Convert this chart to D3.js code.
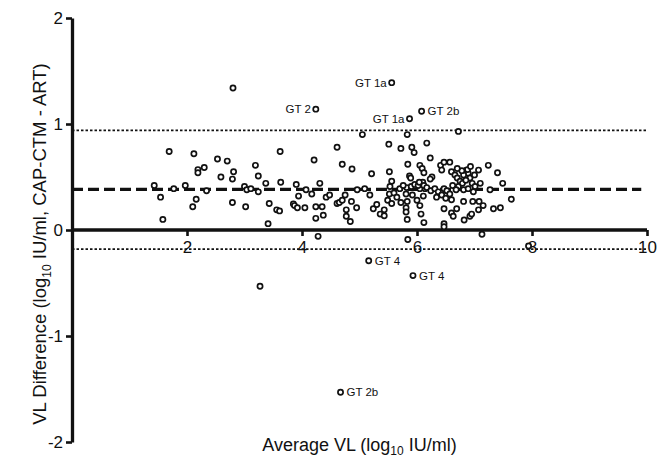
<!DOCTYPE html>
<html>
<head>
<meta charset="utf-8">
<script src="https://cdn.jsdelivr.net/npm/d3@7/dist/d3.min.js"></script>
<style>
  body { margin: 0; background: #fff; }
  svg text { font-family: "Liberation Sans", Arial, sans-serif; fill: #111; }
</style>
</head>
<body>
<div id="chart"></div>
<script>
'use strict';

// average VL (log10) vs difference
const avgVL = [
  1.43,1.54,1.58,1.69,1.77,1.97,2.10,2.12,2.16,2.19,2.19,2.30,2.34,2.53,2.59,2.70,2.79,2.81,2.79,2.80,
  3.00,3.02,3.04,3.11,3.19,3.24,3.24,3.37,3.43,3.41,3.56,3.61,3.62,3.63,3.27,
  3.85,3.87,3.92,3.90,3.94,4.05,4.07,4.17,4.21,4.24,4.24,4.24,4.28,4.31,4.35,4.37,4.42,4.48,
  4.61,4.61,4.65,4.70,4.75,4.77,4.77,4.84,4.86,4.95,4.70,4.87,4.96,4.67,
  5.05,5.09,5.16,5.18,5.21,5.24,5.30,5.36,5.43,5.43,5.49,5.51,5.52,5.52,5.56,5.56,5.56,5.60,5.65,5.72,5.72,5.84,
  5.81,5.83,5.81,5.81,5.83,5.84,5.83,5.87,5.87,5.89,5.91,5.95,5.92,5.93,6.00,6.05,6.09,6.12,6.08,6.07,6.12,6.11,6.05,
  6.17,6.23,6.10,6.14,6.05,5.82,5.90,5.96,6.02,6.04,6.12,6.17,5.70,5.76,5.53,
  6.26,6.23,6.24,6.31,6.37,6.47,6.52,6.34,6.43,6.50,6.57,6.60,6.41,6.47,6.57,6.43,6.60,6.66,6.70,6.75,6.72,6.79,
  6.86,6.89,6.92,6.96,7.01,7.07,7.10,6.81,6.89,6.98,7.24,7.27,7.40,7.49,7.64,7.33,7.45,6.47,6.60,6.69,6.63,6.47,6.47,
  6.81,6.97,7.08,6.82,6.92,6.95,7.07,7.15,6.72,7.13,7.94,6.88,6.81,6.62,6.68,6.85,6.93,7.00,6.78,6.70
];
const diffVL = [
  0.42,0.31,0.10,0.74,0.39,0.42,0.22,0.72,0.29,0.57,0.54,0.59,0.37,0.67,0.50,0.65,0.48,0.55,0.26,1.34,
  0.41,0.22,0.38,0.39,0.61,0.51,0.36,0.44,0.25,0.06,0.19,0.18,0.74,0.45,-0.53,
  0.245,0.23,0.21,0.43,0.32,0.21,0.38,0.34,0.66,0.22,0.11,1.14,-0.06,0.44,0.22,0.14,0.31,0.33,
  0.78,0.25,0.26,0.28,0.33,0.19,0.13,0.08,0.27,0.21,0.62,0.575,0.38,-1.53,
  0.90,0.39,-0.29,0.33,0.53,0.20,0.24,0.15,0.19,0.135,0.28,0.81,0.34,0.55,0.46,0.25,1.39,0.35,0.31,0.77,0.26,-0.09,
  0.34,0.27,0.21,0.17,0.10,0.62,0.90,1.05,0.51,0.49,0.78,0.73,0.33,-0.43,0.28,0.61,0.58,0.54,1.12,0.15,0.07,0.32,0.23,
  0.82,0.68,0.45,0.39,0.39,0.40,0.41,0.43,0.42,0.45,0.42,0.40,0.39,0.42,0.41,
  0.50,0.48,0.37,0.39,0.36,0.39,0.37,0.31,0.33,0.30,0.34,0.285,0.61,0.64,0.64,0.565,0.55,0.52,0.49,0.46,0.41,0.44,
  0.565,0.535,0.49,0.44,0.41,0.565,0.44,0.38,0.39,0.36,0.61,0.38,0.54,0.44,0.29,0.20,0.21,0.20,0.16,0.20,0.13,0.06,0.03,
  0.27,0.27,0.27,0.095,0.13,0.15,0.19,0.23,0.93,-0.04,-0.15,0.57,0.52,0.42,0.38,0.47,0.60,0.52,0.56,0.58
];

const meanDiff = 0.384;
const limitsOfAgreement = [0.94, -0.18];

const notes = [
  { x: 5.56, y: 1.39, text: 'GT 1a', side: 'left' },
  { x: 4.24, y: 1.14, text: 'GT 2', side: 'left' },
  { x: 5.87, y: 1.05, text: 'GT 1a', side: 'left' },
  { x: 6.08, y: 1.12, text: 'GT 2b', side: 'right' },
  { x: 5.16, y: -0.29, text: 'GT 4', side: 'right' },
  { x: 5.93, y: -0.43, text: 'GT 4', side: 'right' },
  { x: 4.67, y: -1.53, text: 'GT 2b', side: 'right' }
];

const xTicks = [2, 4, 6, 8, 10];
const yTicks = [-2, -1, 0, 1, 2];

const width = 666, height = 458;
const svg = d3.select('#chart').append('svg')
  .attr('width', width).attr('height', height);

const x = d3.scaleLinear().domain([0, 10]).range([72, 647]);
const y = d3.scaleLinear().domain([-2, 2]).range([442, 18]);

// reference lines
svg.selectAll('line.loa').data(limitsOfAgreement).enter()
  .append('line').attr('class', 'loa')
  .attr('x1', x(0)).attr('x2', x(10))
  .attr('y1', d => y(d)).attr('y2', d => y(d))
  .attr('stroke', '#111').attr('stroke-width', 1.6)
  .attr('stroke-dasharray', '2.5,2');

svg.append('line')
  .attr('x1', x(0)).attr('x2', x(9.9))
  .attr('y1', y(meanDiff)).attr('y2', y(meanDiff))
  .attr('stroke', '#111').attr('stroke-width', 3.3)
  .attr('stroke-dasharray', '11,5');

// axes
const yAxis = svg.append('g')
  .attr('transform', 'translate(' + x(0) + ',0)')
  .call(d3.axisLeft(y).tickValues(yTicks).tickSize(6).tickSizeOuter(0).tickPadding(3).tickFormat(d => String(d)));

const xAxis = svg.append('g')
  .attr('transform', 'translate(0,' + y(0) + ')')
  .call(d3.axisBottom(x).tickValues(xTicks).tickSize(6).tickSizeOuter(0).tickPadding(5));

[xAxis, yAxis].forEach(g => {
  g.select('.domain').attr('stroke', '#111').attr('stroke-width', 3.3);
  g.selectAll('.tick line').attr('stroke', '#111').attr('stroke-width', 2.6);
  g.selectAll('.tick text').style('font-size', '17px').attr('fill', '#111');
});
xAxis.select('.domain').attr('d', 'M' + x(0) + ',0H' + x(10));

// points
const pts = avgVL.map((v, i) => ({ x: v, y: diffVL[i] }));
svg.selectAll('circle.pt').data(pts).enter()
  .append('circle').attr('class', 'pt')
  .attr('cx', d => x(d.x)).attr('cy', d => y(d.y))
  .attr('r', 2.6)
  .attr('fill', '#fff').attr('stroke', '#111').attr('stroke-width', 1.7);

// annotations
svg.selectAll('text.note').data(notes).enter()
  .append('text').attr('class', 'note')
  .attr('x', d => x(d.x) + (d.side === 'left' ? -5 : 6))
  .attr('y', d => y(d.y) + 4)
  .attr('text-anchor', d => d.side === 'left' ? 'end' : 'start')
  .style('font-size', '11.5px')
  .text(d => d.text);

// axis titles
const xt = svg.append('text')
  .attr('x', (x(0) + x(10)) / 2).attr('y', 451)
  .attr('text-anchor', 'middle').style('font-size', '18px');
xt.append('tspan').text('Average VL (log');
xt.append('tspan').attr('dy', 4).style('font-size', '12px').text('10');
xt.append('tspan').attr('dy', -4).text(' IU/ml)');

const yt = svg.append('text')
  .attr('transform', 'translate(46,' + 244 + ') rotate(-90)')
  .attr('text-anchor', 'middle').style('font-size', '18.5px');
yt.append('tspan').text('VL Difference (log');
yt.append('tspan').attr('dy', 5).style('font-size', '12px').text('10');
yt.append('tspan').attr('dy', -5).text(' IU/ml, CAP-CTM - ART)');
</script>
</body>
</html>
